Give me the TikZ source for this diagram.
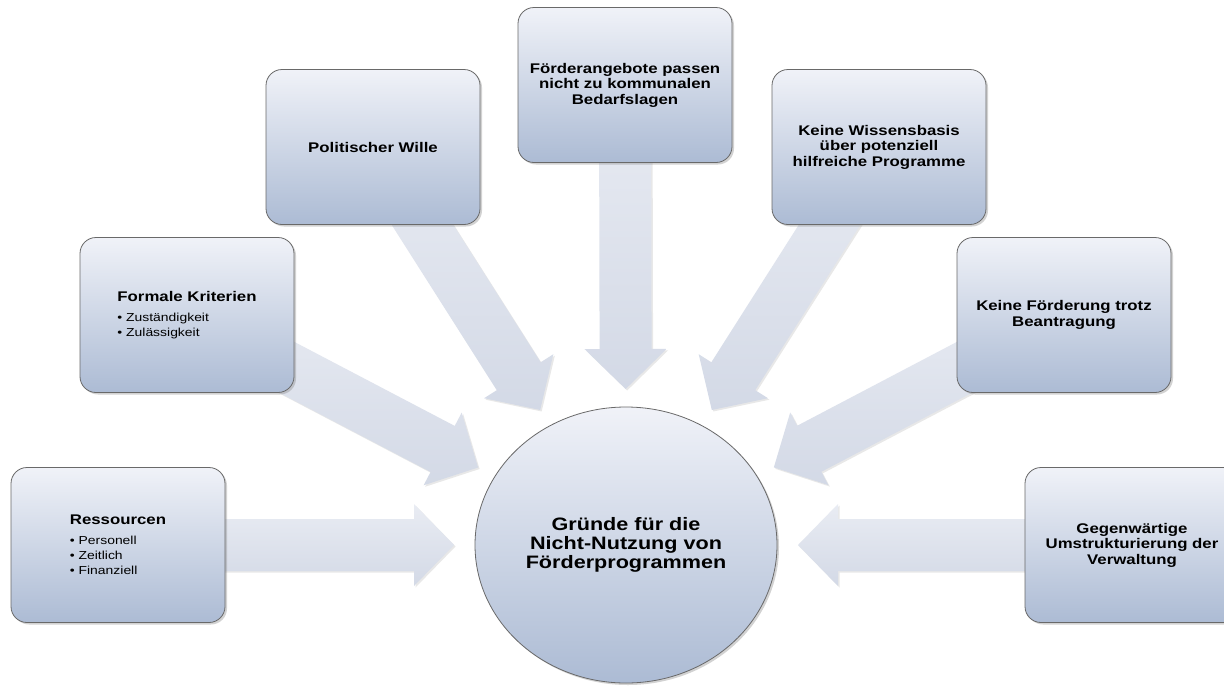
\documentclass[tikz,border=0pt]{standalone}
\usepackage{fontspec}
\setmainfont{Liberation Sans}[FakeStretch=1.2]
\usetikzlibrary{calc,shadows,backgrounds,shapes.geometric}
\definecolor{boxtop}{RGB}{240,242,248}
\definecolor{boxbot}{RGB}{172,187,212}
\definecolor{arrtop}{RGB}{233,236,243}
\definecolor{arrbot}{RGB}{211,217,230}
\definecolor{edgegray}{RGB}{105,105,105}
\tikzset{
  box/.style={draw=edgegray, line width=0.8pt, rounded corners=16pt,
    minimum width=214pt, minimum height=155pt, inner sep=0pt,
    top color=boxtop, bottom color=boxbot,
    drop shadow={shadow xshift=2pt, shadow yshift=-2pt, opacity=0.35},
    align=center, font=\fontsize{14}{15.5}\selectfont\bfseries},
  listbox/.style={box, align=left, font=\fontsize{11.6}{15}\selectfont},
  hub/.style={ellipse, draw=edgegray, line width=0.8pt,
    minimum width=302pt, minimum height=276pt, inner sep=0pt,
    top color=boxtop, bottom color=boxbot,
    drop shadow={shadow xshift=2pt, shadow yshift=-2pt, opacity=0.35},
    align=center, font=\fontsize{18}{19}\selectfont\bfseries},
  blockarr/.style={top color=arrtop, bottom color=arrbot, draw=none,
    drop shadow={shadow xshift=1.5pt, shadow yshift=-1.5pt, opacity=0.18}}
}
\newcommand\blockarrow[3]{%
  \coordinate (tip) at ($(#2)!#3!(#1)$);
  \coordinate (base) at ($(tip)!40pt!(#1)$);
  \path[blockarr] ($(#1)!26pt!90:(tip)$) -- ($(base)!26pt!90:(tip)$)
    -- ($(base)!41pt!90:(tip)$) -- (tip) -- ($(base)!41pt!-90:(tip)$)
    -- ($(base)!26pt!-90:(tip)$) -- ($(#1)!26pt!-90:(tip)$) -- cycle;
}
\newcommand\ttl[1]{{\fontsize{14}{15}\selectfont\bfseries #1}}
\begin{document}
\begin{tikzpicture}[x=1pt,y=-1pt]
\useasboundingbox (0,0) rectangle (1224,686);
\clip (0,0) rectangle (1224,686);

\node[hub] (hub) at (626,545) {Gründe für die\\Nicht-Nutzung von\\Förderprogrammen};

\node[listbox] (res) at (118,545) {\ttl{Ressourcen}\\[5pt]• Personell\\• Zeitlich\\• Finanziell};
\node[listbox] (fk) at (187,315) {\ttl{Formale Kriterien}\\[5pt]• Zuständigkeit\\• Zulässigkeit};
\node[box] (pw) at (373,147) {Politischer Wille};
\node[box] (fa) at (625,85) {Förderangebote passen\\nicht zu kommunalen\\Bedarfslagen};
\node[box] (kw) at (879,147) {Keine Wissensbasis\\über potenziell\\hilfreiche Programme};
\node[box] (kf) at (1064,315) {Keine Förderung trotz\\Beantragung};
\node[box] (gu) at (1132,545) {Gegenwärtige\\Umstrukturierung der\\Verwaltung};

\begin{scope}[on background layer]
  \fill[white] (0,0) rectangle (1224,686);
  \blockarrow{res}{hub}{172pt}
  \blockarrow{fk}{hub}{167pt}
  \blockarrow{pw}{hub}{160pt}
  \blockarrow{fa}{hub}{156pt}
  \blockarrow{kw}{hub}{160pt}
  \blockarrow{kf}{hub}{167pt}
  \blockarrow{gu}{hub}{172pt}
\end{scope}
\end{tikzpicture}
\end{document}
